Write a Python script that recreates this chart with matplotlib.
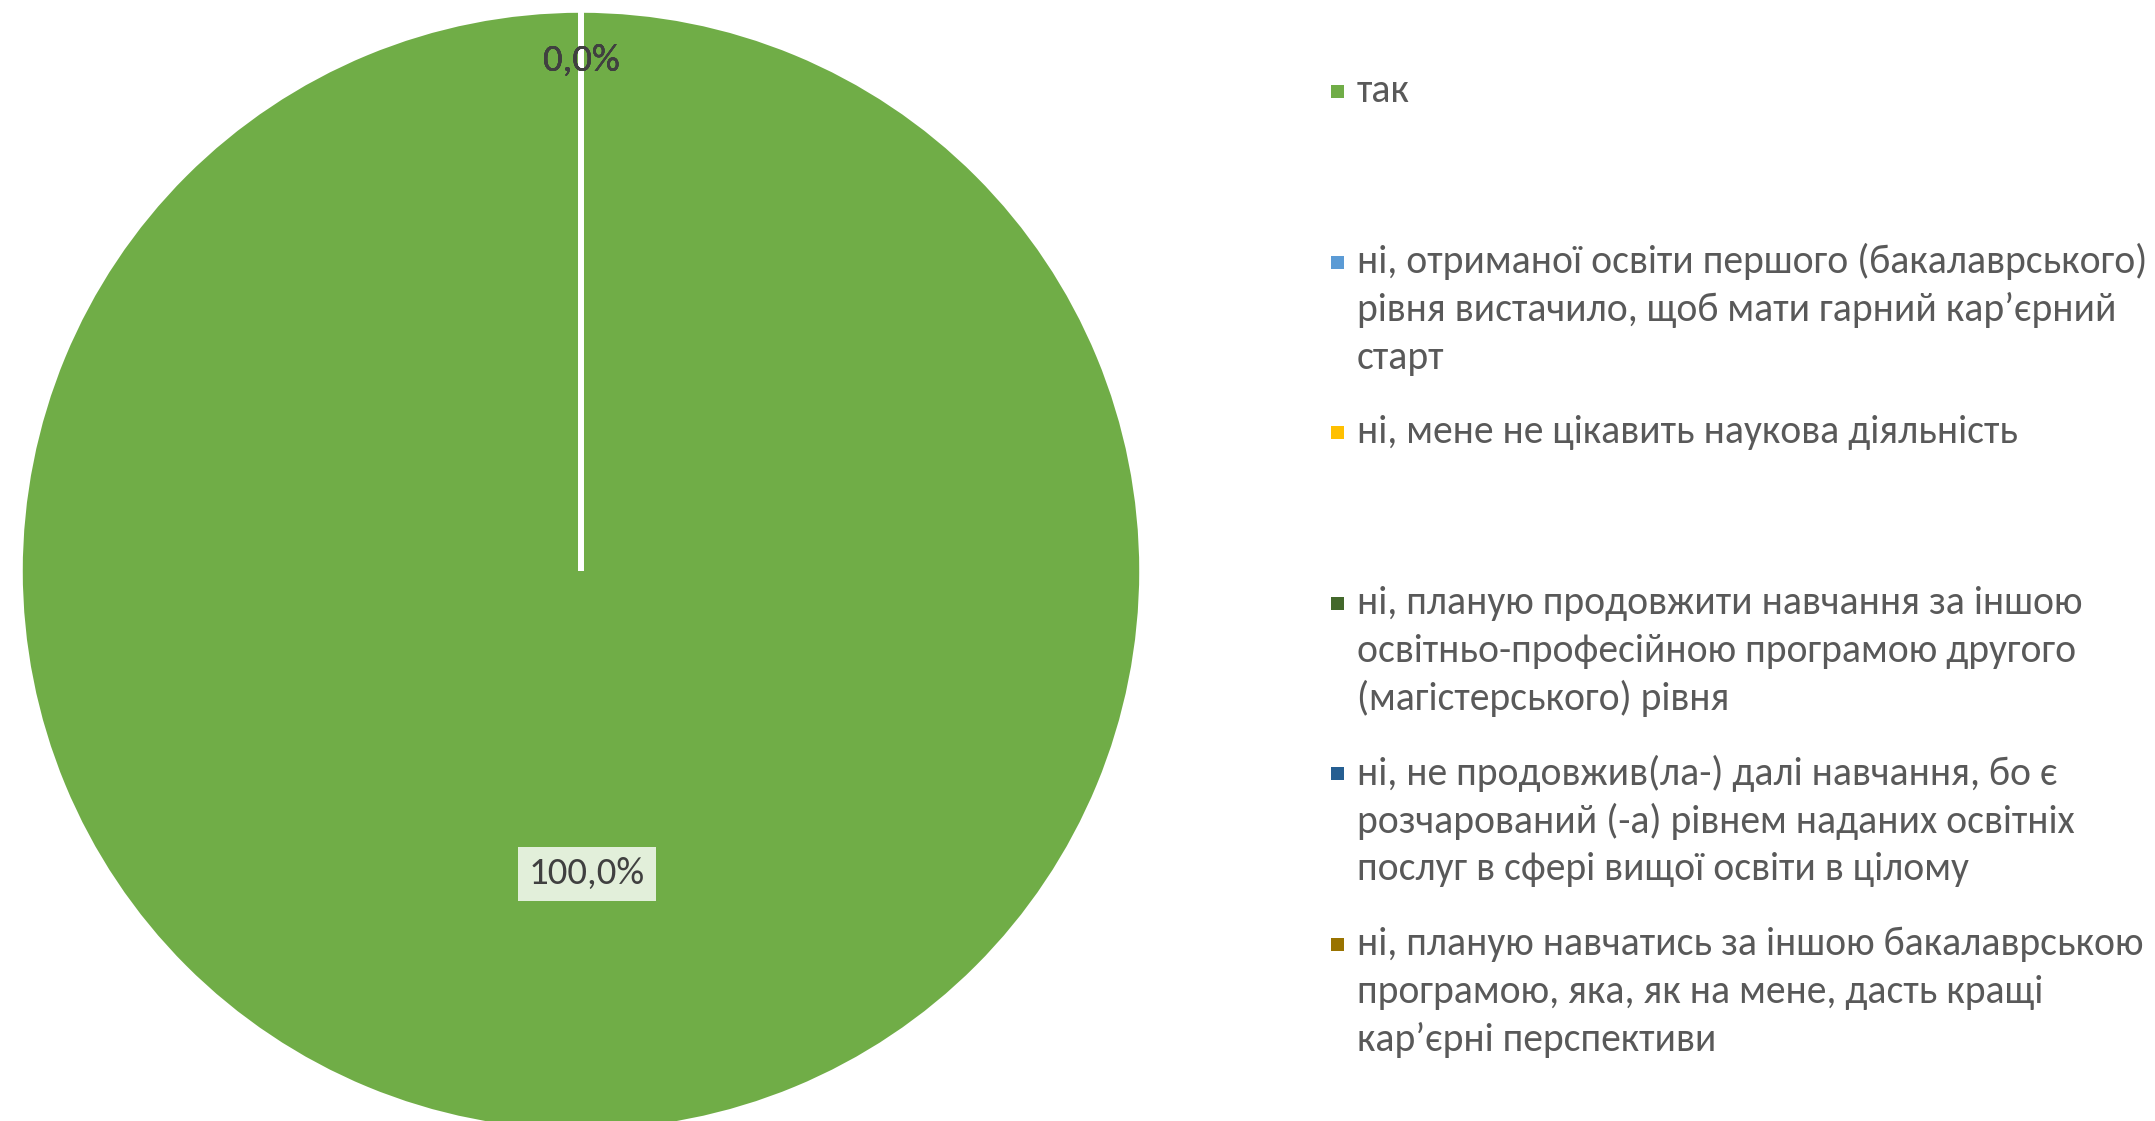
import numpy as np
import matplotlib.pyplot as plt
from matplotlib.patches import Rectangle

plt.rcParams['font.family'] = ['Carlito', 'Noto Sans', 'DejaVu Sans']

# дані
categories = [
    'так',
    'ні, отриманої освіти першого (бакалаврського)\nрівня вистачило, щоб мати гарний кар’єрний\nстарт',
    'ні, мене не цікавить наукова діяльність',
    'ні, планую продовжити навчання за іншою\nосвітньо-професійною програмою другого\n(магістерського) рівня',
    'ні, не продовжив(ла-) далі навчання, бо є\nрозчарований (-а) рівнем наданих освітніх\nпослуг в сфері вищої освіти в цілому',
    'ні, планую навчатись за іншою бакалаврською\nпрограмою, яка, як на мене, дасть кращі\nкар’єрні перспективи',
]
values = [100.0, 0.0, 0.0, 0.0, 0.0, 0.0]
colors = ['#70AD47', '#5B9BD5', '#FFC000', '#43682B', '#255E91', '#997300']

W, H = 2155, 1121
fig = plt.figure(figsize=(W / 100, H / 100), dpi=100)

# кругова діаграма
cx, cy, r = 581, 571, 561
ax = fig.add_axes([(cx - r) / W, (H - cy - r) / H, 2 * r / W, 2 * r / H])
wedges, _ = ax.pie(values, colors=colors, startangle=90, counterclock=False,
                   radius=1.0, wedgeprops=dict(edgecolor='white', linewidth=4))
ax.set_xlim(-1, 1)
ax.set_ylim(-1, 1)
ax.set_aspect('equal')
ax.axis('off')

# підписи відсотків
total = sum(values)
for w, v in zip(wedges, values):
    mid = np.deg2rad((w.theta1 + w.theta2) / 2)
    d = 0.54 if v > 0 else 0.91
    x, y = d * np.cos(mid), d * np.sin(mid)
    txt = f'{v / total * 100:.1f}%'.replace('.', ',')
    if v > 0:
        ax.text(x + 0.01, y, txt, ha='center', va='center', fontsize=28, color='#404040',
                bbox=dict(boxstyle='square,pad=0.28', fc='#E2EFDA', ec='none'))
    else:
        ax.text(x, y, txt, ha='center', va='center', fontsize=28, color='#404040')

# легенда
y0, step, line_h = 91, 170.6, 48
for i, (lab, col) in enumerate(zip(categories, colors)):
    ys = y0 + step * i
    fig.add_artist(Rectangle(((1331) / W, 1 - (ys + 7) / H), 13 / W, 13 / H,
                             transform=fig.transFigure, fc=col, ec='none'))
    for j, line in enumerate(lab.split('\n')):
        fig.text(1357 / W, 1 - (ys + line_h * j) / H, line, ha='left', va='center',
                 fontsize=28.5, color='#595959')

fig.savefig('out.png', dpi=100)
